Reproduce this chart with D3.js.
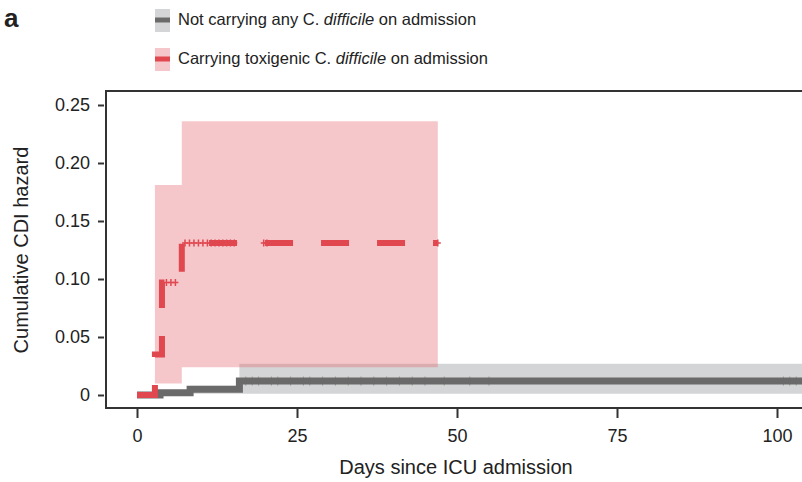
<!DOCTYPE html>
<html>
<head>
<meta charset="utf-8">
<script src="https://cdn.jsdelivr.net/npm/d3@7"></script>
<style>
  html, body { margin: 0; padding: 0; background: #fff; }
  text { font-family: "Liberation Sans", Arial, sans-serif; fill: #222; }
</style>
</head>
<body>
<script>
// Data
const legendLabels = ["Not carrying any", "Carrying toxigenic"]
const xTicks = [0, 25, 50, 75, 100]
const yTicks = [0, 0.05, 0.10, 0.15, 0.20, 0.25]

// Not carrying any C. difficile
const grayTimes = [0, 3.6, 8.3, 16, 104]
const grayHazard = [0, 0.002, 0.005, 0.012, 0.012]
const grayBandTimes = [3.6, 8.3, 16, 104]
const grayLower = [0, 0.001, 0.001, 0.001]
const grayUpper = [0.004, 0.008, 0.027, 0.027]
const grayCensor = [17, 18, 19, 21, 22, 24, 26, 27, 29, 31, 33, 35, 37, 39, 41, 43, 45, 48, 52, 55, 101, 102, 103]

// Carrying toxigenic C. difficile
const redTimes = [0, 2.8, 3.9, 7.0, 47]
const redHazard = [0, 0.035, 0.097, 0.131, 0.131]
const redBandTimes = [2.8, 7.0, 47]
const redLower = [0.010, 0.024, 0.024]
const redUpper = [0.181, 0.236, 0.236]
const redCensor = [4.6, 5.3, 6.0, 7.5, 8.2, 8.9, 9.6, 10.3, 11.0, 11.6, 12.2, 12.8, 13.4, 14.0, 14.6, 15.2, 19.8, 20.3, 47]

// Colours
const grayLine = "#6a6a6a", grayBand = "#d4d5d6"
const redLine = "#e0474f", redBand = "#e4666e"

// Create SVG
const width = 802, height = 482
const svg = d3.select("body").append("svg")
  .attr("width", width)
  .attr("height", height)

const x = d3.scaleLinear().domain([0, 100]).range([137, 777])
const y = d3.scaleLinear().domain([0, 0.25]).range([395, 105])

svg.append("clipPath").attr("id", "plot")
  .append("rect").attr("x", 106).attr("y", 91).attr("width", width - 106).attr("height", 317)

const plot = svg.append("g").attr("clip-path", "url(#plot)")

const band = (times, lo, hi) => d3.area()
  .curve(d3.curveStepAfter)
  .x(i => x(times[i]))
  .y0(i => y(lo[i]))
  .y1(i => y(hi[i]))(d3.range(times.length))

const step = (times, vals) => d3.line()
  .curve(d3.curveStepAfter)
  .x(i => x(times[i]))
  .y(i => y(vals[i]))(d3.range(times.length))

const hazardAt = (times, vals, t) => vals[d3.bisectRight(times, t) - 1]

// Confidence bands
plot.append("path").attr("d", band(grayBandTimes, grayLower, grayUpper)).attr("fill", grayBand)
plot.append("path").attr("d", band(redBandTimes, redLower, redUpper)).attr("fill", redBand).attr("fill-opacity", 0.37)

// Hazard lines with censoring marks
plot.append("path").attr("d", step(grayTimes, grayHazard))
  .attr("fill", "none").attr("stroke", grayLine).attr("stroke-width", 7)

plot.append("g").selectAll("path").data(grayCensor).join("path")
  .attr("transform", d => `translate(${x(d)},${y(hazardAt(grayTimes, grayHazard, d))})`)
  .attr("d", "M0,-4.5V4.5")
  .attr("stroke", grayLine).attr("stroke-opacity", 0.6).attr("stroke-width", 1)

plot.append("path").attr("d", step(redTimes, redHazard))
  .attr("fill", "none").attr("stroke", redLine).attr("stroke-width", 6)
  .attr("stroke-dasharray", "28,28")

plot.append("g").selectAll("path").data(redCensor).join("path")
  .attr("transform", d => `translate(${x(d)},${y(hazardAt(redTimes, redHazard, d))})`)
  .attr("d", "M-3,0H3M0,-3.5V3.5")
  .attr("stroke", redLine).attr("stroke-width", 1.5)

// Box
svg.append("path")
  .attr("d", `M${width},91H106V408H${width}`)
  .attr("fill", "none").attr("stroke", "#333").attr("stroke-width", 2)

// Axes
const yAxis = svg.append("g")
  .attr("transform", "translate(104,0)")
  .call(d3.axisLeft(y).tickValues(yTicks).tickSize(6).tickPadding(8)
    .tickFormat(d => d === 0 ? "0" : d3.format(".2f")(d)))
yAxis.select(".domain").remove()

const xAxis = svg.append("g")
  .attr("transform", "translate(0,409)")
  .call(d3.axisBottom(x).tickValues(xTicks).tickSize(9).tickPadding(11))
xAxis.select(".domain").remove()

svg.selectAll(".tick line").attr("stroke", "#333").attr("stroke-width", 2)
svg.selectAll(".tick text").attr("font-size", "18px").attr("fill", "#222")
  .attr("font-family", "'Liberation Sans', Arial, sans-serif")

// Axis titles
svg.append("text")
  .attr("x", 456).attr("y", 474)
  .attr("text-anchor", "middle")
  .attr("font-size", "20px")
  .text("Days since ICU admission")

svg.append("text")
  .attr("transform", "translate(28,250) rotate(-90)")
  .attr("text-anchor", "middle")
  .attr("font-size", "20px")
  .text("Cumulative CDI hazard")

// Panel letter
svg.append("text")
  .attr("x", 4).attr("y", 27)
  .attr("font-size", "26px").attr("font-weight", "bold")
  .attr("fill", "#111")
  .text("a")

// Legend
const legend = svg.append("g").attr("class", "legend")
  .selectAll("g")
  .data([
    { label: legendLabels[0], line: grayLine, band: grayBand, opacity: 1 },
    { label: legendLabels[1], line: redLine, band: redBand, opacity: 0.37 },
  ])
  .join("g")
  .attr("transform", (_, i) => `translate(155,${9 + i * 39})`)

legend.append("rect")
  .attr("width", 15).attr("height", 23)
  .attr("fill", d => d.band).attr("fill-opacity", d => d.opacity)
legend.append("line")
  .attr("x1", 0).attr("x2", 15).attr("y1", 11).attr("y2", 11)
  .attr("stroke", d => d.line).attr("stroke-width", 5)

const label = legend.append("text")
  .attr("x", 23).attr("y", 16)
  .attr("font-size", "16.5px")
label.append("tspan").text(d => `${d.label} C. `)
label.append("tspan").attr("font-style", "italic").text("difficile")
label.append("tspan").text(" on admission")
</script>
</body>
</html>
